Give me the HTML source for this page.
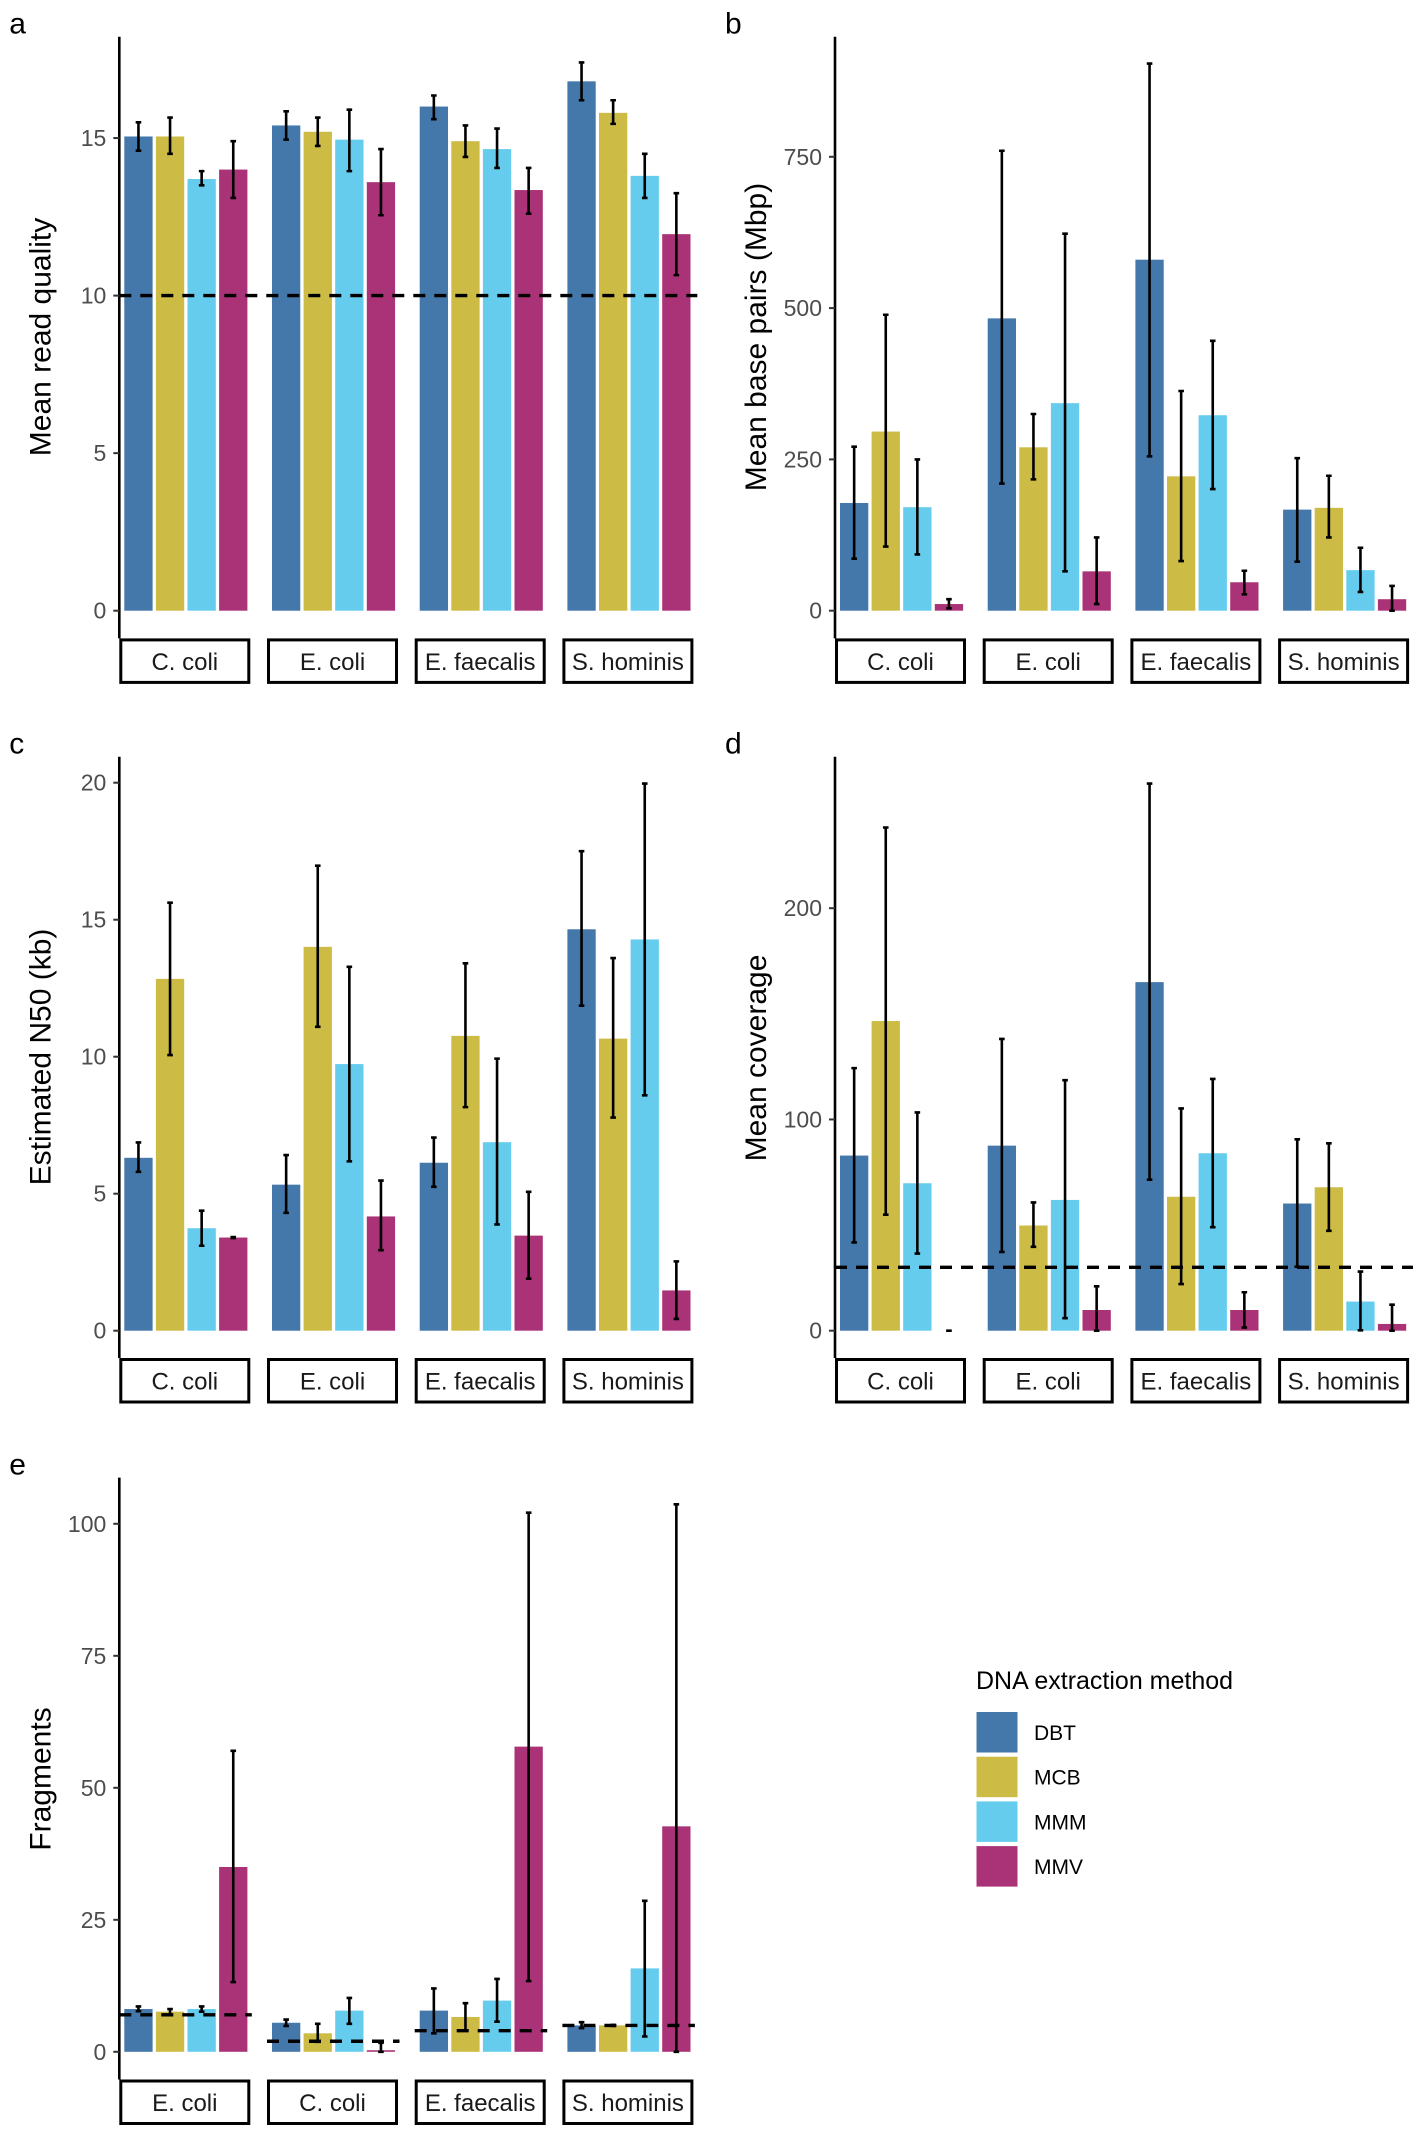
<!DOCTYPE html>
<html><head><meta charset="utf-8">
<style>
html,body{margin:0;padding:0;background:#fff;}
svg{display:block;font-family:"Liberation Sans",Arial,sans-serif;}
</style></head>
<body>
<svg id="fig" width="1418" height="2135" viewBox="0 0 1418 2135" xmlns="http://www.w3.org/2000/svg"></svg>
<script>
const methods = ["DBT","MCB","MMM","MMV"];
const colors = ["#4477AA","#CCBB44","#66CCEE","#AA3377"];
const speciesABCD = ["C. coli","E. coli","E. faecalis","S. hominis"];
const speciesE = ["E. coli","C. coli","E. faecalis","S. hominis"];

// Panel a: mean read quality [species][method]
const aMeans = [[15.05,15.05,13.7,14.0],[15.4,15.2,14.95,13.6],[16.0,14.9,14.65,13.35],[16.8,15.8,13.8,11.95]];
const aLow = [[14.6,14.5,13.5,13.1],[14.95,14.75,13.95,12.55],[15.6,14.4,14.05,12.6],[16.2,15.45,13.1,10.65]];
const aHigh = [[15.5,15.65,13.95,14.9],[15.85,15.65,15.9,14.65],[16.35,15.4,15.3,14.05],[17.4,16.2,14.5,13.25]];
const aTicks = [0,5,10,15];
const aThreshold = [10,10,10,10];

// Panel b: mean base pairs (Mbp)
const bMeans = [[178,296,171,11],[483,270,343,65],[580,222,323,47],[167,170,67,19]];
const bLow = [[86,106,93,4],[210,217,65,11],[255,82,201,27],[81,121,31,0]];
const bHigh = [[271,489,250,19],[760,325,623,121],[904,363,446,66],[252,223,104,41]];
const bTicks = [0,250,500,750];

// Panel c: estimated N50 (kb)
const cMeans = [[6.31,12.84,3.74,3.4],[5.33,14.01,9.73,4.17],[6.13,10.76,6.88,3.47],[14.65,10.66,14.28,1.47]];
const cLow = [[5.8,10.06,3.1,3.38],[4.3,11.09,6.18,2.94],[5.25,8.16,3.88,1.9],[11.86,7.78,8.59,0.43]];
const cHigh = [[6.87,15.62,4.38,3.42],[6.41,16.97,13.28,5.48],[7.05,13.41,9.93,5.07],[17.5,13.6,19.97,2.53]];
const cTicks = [0,5,10,15,20];

// Panel d: mean coverage
const dMeans = [[82.9,146.6,69.8,0],[87.6,49.8,61.9,9.8],[165,63.4,84,9.8],[60.2,67.9,13.8,3.2]];
const dLow = [[41.8,54.9,36.5,0],[37.3,39.7,5.9,0],[71.5,22.1,49,1.5],[30.3,47.3,0.2,0]];
const dHigh = [[124.3,238.2,103.3,0],[138.1,60.7,118.6,21],[259,105.2,119.2,18.2],[90.6,88.7,28,12.3]];
const dTicks = [0,100,200];
const dThreshold = [30,30,30,30];

// Panel e: fragments
const eMeans = [[8.1,7.6,8.1,35.0],[5.5,3.5,7.8,0.3],[7.8,6.6,9.7,57.8],[5.0,5.0,15.8,42.7]];
const eLow = [[7.7,7.0,7.6,13.2],[4.9,1.9,5.3,0],[3.5,4.0,5.7,13.4],[4.5,4.9,2.9,0]];
const eHigh = [[8.6,8.1,8.6,57.0],[6.1,5.3,10.2,1.7],[12.0,9.2,13.8,102.1],[5.6,5.1,28.6,103.7]];
const eTicks = [0,25,50,75,100];
const eThreshold = [7,2,4,5];

const NS = "http://www.w3.org/2000/svg";
const svg = document.getElementById("fig");
function mk(tag, attrs, parent){
  const el = document.createElementNS(NS, tag);
  for (const k in attrs) el.setAttribute(k, attrs[k]);
  (parent||svg).appendChild(el);
  return el;
}

function drawPanel(p){
  const g = mk("g", {});
  
  
  const y = v => p.zero - v * p.upp;
  const facetX = i => p.ax + 1.5 + i * 147.7;
  const barX = (i, j) => facetX(i) + 3.5 + j * 31.6;
  const bw = 28.3;

  const lt = mk("text", {x: p.ax - 110, y: p.top - 3, "font-size": 30, fill: "#000"}, g);
  lt.textContent = p.letter;
  
  

  for (let i = 0; i < 4; i++){
    for (let j = 0; j < 4; j++){
      const v = p.means[i][j];
      if (v > 0){
        const r = mk("rect", {x: barX(i,j), y: y(v), width: bw, height: Math.max(0, p.zero - y(v)), fill: colors[j]}, g);
        
        
      }
    }
  }
  if (p.threshold){
    if (p.perFacet){
      for (let i = 0; i < 4; i++){
        const ty = y(p.threshold[i]);
        const l = mk("line", {x1: facetX(i) - 1.5, x2: facetX(i) + 131, y1: ty, y2: ty, stroke: "#000", "stroke-width": 3.4, "stroke-dasharray": "12 9"}, g);
        
        
      }
    } else {
      const ty = y(p.threshold[0]);
      const l = mk("line", {x1: p.ax, x2: p.ax + 578, y1: ty, y2: ty, stroke: "#000", "stroke-width": 3.4, "stroke-dasharray": "12 9"}, g);
      
      
    }
  }
  for (let i = 0; i < 4; i++){
    for (let j = 0; j < 4; j++){
      const cx = barX(i,j) + bw/2;
      const y1 = y(p.high[i][j]), y2 = y(p.low[i][j]);
      const e = mk("path", {d: `M${cx},${y1}V${y2}M${cx-2.8},${y1}H${cx+2.8}M${cx-2.8},${y2}H${cx+2.8}`, stroke: "#000", "stroke-width": 2.6, fill: "none"}, g);
      
      
    }
  }
  const ax = mk("line", {x1: p.ax, x2: p.ax, y1: p.top, y2: p.bottom, stroke: "#000", "stroke-width": 2.6}, g);
  
  
  for (const t of p.ticks){
    const ty = y(t);
    const tk = mk("line", {x1: p.ax - 6, x2: p.ax, y1: ty, y2: ty, stroke: "#333", "stroke-width": 2}, g);
    
    
    const tl = mk("text", {x: p.ax - 13, y: ty + 8, "font-size": 23, fill: "#4d4d4d", "text-anchor": "end"}, g);
    tl.textContent = t;
    
    
  }
  const ty = mk("text", {x: 0, y: 0, "font-size": 30, fill: "#000", "text-anchor": "middle", transform: `translate(${p.ax - 69},${p.titleY}) rotate(-90)`}, g);
  ty.textContent = p.title;
  
  
  for (let i = 0; i < 4; i++){
    const sx = facetX(i);
    const sr = mk("rect", {x: sx, y: p.bottom + 1.5, width: 128, height: 42.5, fill: "#fff", stroke: "#000", "stroke-width": 3}, g);
    
    
    const st = mk("text", {x: sx + 64, y: p.bottom + 31.5, "font-size": 24, fill: "#1a1a1a", "text-anchor": "middle"}, g);
    st.textContent = p.cats[i];
    
    
  }
}

drawPanel({name:"panel-a-read-quality", letter:"a", ax:119.3, zero:610.7, upp:31.51, top:36.7, bottom:638.4, ticks:aTicks, means:aMeans, low:aLow, high:aHigh, threshold:aThreshold, perFacet:false, title:"Mean read quality", titleY:337, cats:speciesABCD});
drawPanel({name:"panel-b-base-pairs", letter:"b", ax:835, zero:610.7, upp:151.3/250, top:36.7, bottom:638.4, ticks:bTicks, means:bMeans, low:bLow, high:bHigh, threshold:null, title:"Mean base pairs (Mbp)", titleY:337, cats:speciesABCD});
drawPanel({name:"panel-c-n50", letter:"c", ax:119.3, zero:1330.7, upp:27.4, top:756.7, bottom:1358, ticks:cTicks, means:cMeans, low:cLow, high:cHigh, threshold:null, title:"Estimated N50 (kb)", titleY:1057, cats:speciesABCD});
drawPanel({name:"panel-d-coverage", letter:"d", ax:835, zero:1330.7, upp:2.1125, top:756.7, bottom:1358, ticks:dTicks, means:dMeans, low:dLow, high:dHigh, threshold:dThreshold, perFacet:false, title:"Mean coverage", titleY:1058, cats:speciesABCD});
drawPanel({name:"panel-e-fragments", letter:"e", ax:119.3, zero:2051.8, upp:5.28, top:1477.6, bottom:2079.5, ticks:eTicks, means:eMeans, low:eLow, high:eHigh, threshold:eThreshold, perFacet:true, title:"Fragments", titleY:1779, cats:speciesE});

const lg = mk("g", {});


const ltitle = mk("text", {x: 976, y: 1689, "font-size": 25, fill: "#000"}, lg);
ltitle.textContent = "DNA extraction method";


for (let j = 0; j < 4; j++){
  const ky = 1712 + j * 44.7;
  const k = mk("rect", {x: 976.5, y: ky, width: 41, height: 40.5, fill: colors[j]}, lg);
  
  
  const t = mk("text", {x: 1034, y: ky + 28, "font-size": 21, fill: "#000"}, lg);
  t.textContent = methods[j];
  
  
}
</script>
</body></html>
